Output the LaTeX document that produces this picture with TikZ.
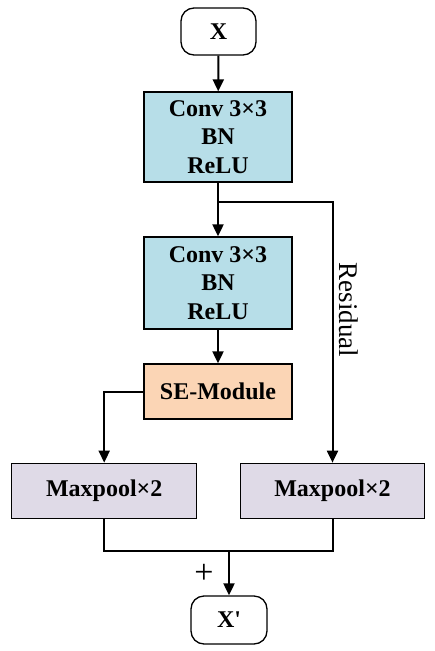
\documentclass[tikz,border=0pt]{standalone}
\usepackage{fontspec}
\setmainfont{Liberation Serif}[Ligatures=TeXOff]
\usetikzlibrary{arrows.meta}
\definecolor{convblue}{HTML}{B7DEE8}
\definecolor{sepeach}{HTML}{FBD5B5}
\definecolor{poolgray}{HTML}{DFDAE7}
\begin{document}
\begin{tikzpicture}[x=1pt,y=-1pt,
  box/.style={draw=black,line width=1.3pt,inner sep=0pt,align=center,
    font=\fontsize{24}{28.5}\selectfont\bfseries},
  term/.style={box,rounded corners=13pt,fill=white},
  conn/.style={line width=2pt},
  arr/.style={conn,-{Triangle[length=12pt,width=11pt]}}]
\useasboundingbox (0,0) rectangle (435,651);
\node[term,minimum width=75pt,minimum height=47pt] (x) at (218.5,31.5) {X};
\node[box,fill=convblue,minimum width=148pt,minimum height=90pt] (c1) at (218,137) {Conv 3×3\\BN\\ReLU};
\node[box,fill=convblue,minimum width=148pt,minimum height=92pt] (c2) at (218,283) {Conv 3×3\\BN\\ReLU};
\node[box,fill=sepeach,minimum width=148pt,minimum height=55pt] (se) at (218,391.5) {SE-Module};
\node[box,fill=poolgray,minimum width=185pt,minimum height=55pt] (mp1) at (104.2,490.8) {Maxpool×2};
\node[box,fill=poolgray,minimum width=184pt,minimum height=55pt] (mp2) at (332.5,490.8) {Maxpool×2};
\node[term,minimum width=76pt,minimum height=48pt] (xp) at (229,620) {X'};
\coordinate (br) at (218,202);
\coordinate (mg) at (229,551);
\draw[arr] (x) -- (c1);
\draw[arr] (c1) -- (c2);
\draw[arr] (br) -| (mp2.north);
\draw[arr] (c2) -- (se);
\draw[arr] (se.west) -| (mp1.north);
\draw[conn] (mp1.south) |- (mg) -| (mp2.south);
\draw[arr] (mg) -- (xp.north);
\node[rotate=-90,font=\fontsize{27}{30}\selectfont] (res) at (349,310) {Residual};
\node[font=\fontsize{34}{36}\selectfont] (plus) at (204,574) {+};
\end{tikzpicture}
\end{document}
